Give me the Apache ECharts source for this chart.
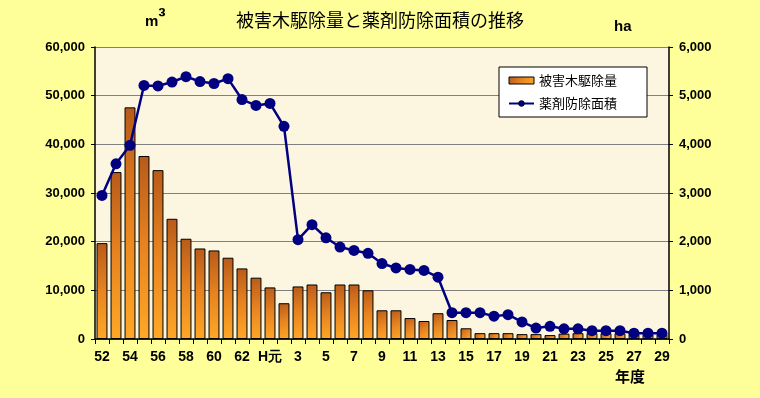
<!DOCTYPE html>
<html><head><meta charset="utf-8">
<script src="https://cdn.jsdelivr.net/npm/echarts@6/dist/echarts.min.js"></script>
<style>html,body{margin:0;padding:0;background:#FFFF99;}#c{width:760px;height:398px;}</style>
</head><body><div id="c"></div>
<script>
const categories = ['52','53','54','55','56','57','58','59','60','61','62','63','H元','2','3','4','5','6','7','8','9','10','11','12','13','14','15','16','17','18','19','20','21','22','23','24','25','26','27','28','29'];
const removalVolume = [19700,34300,47600,37600,34700,24700,20600,18600,18200,16700,14500,12600,10600,7350,10800,11200,9600,11200,11200,10000,5900,5900,4300,3700,5300,3900,2200,1200,1200,1200,1000,1000,800,1100,1200,1200,1200,1200,1000,1000,1000];
const sprayArea = [2950,3600,3980,5210,5200,5280,5390,5290,5250,5350,4920,4800,4840,4370,2040,2350,2080,1890,1820,1760,1550,1460,1430,1410,1270,540,540,540,470,500,350,225,260,210,210,170,170,170,120,120,120];
const seriesNames = ['被害木駆除量','薬剤防除面積'];
const titleText = '被害木駆除量と薬剤防除面積の推移';
const leftUnit = ['m','³'], rightUnit = 'ha', xUnit = '年度';

const chart = echarts.init(document.getElementById('c'), null, {renderer:'canvas'});
const numFont = {fontFamily:'Liberation Sans, Arial, sans-serif', fontSize:13, fontWeight:'bold', color:'#000'};
const cjk = 'Noto Sans CJK JP, sans-serif';
chart.setOption({
  backgroundColor:'#FFFF99',
  animation:false,
  grid:{left:95, right:91, top:47, bottom:59, show:true, backgroundColor:'#FCF5E0', borderWidth:0},
  graphic:[
    {type:'text', left:'center', top:11, style:{text:titleText, font:'18px '+cjk, fill:'#000'}},
    {type:'text', left:145, top:7, style:{text:'{m|'+leftUnit[0]+'}{s|'+leftUnit[1]+'}', rich:{
      m:{fontFamily:'Liberation Sans, Arial', fontWeight:'bold', fontSize:15, fill:'#000', verticalAlign:'bottom'},
      s:{fontFamily:'Liberation Sans, Arial', fontWeight:'bold', fontSize:22, fill:'#000', verticalAlign:'bottom'}}}},
    {type:'text', left:614, top:19, style:{text:rightUnit, font:'bold 15px Liberation Sans, Arial', fill:'#000'}},
    {type:'text', left:615, top:369, style:{text:xUnit, font:'bold 15px '+cjk, fill:'#000'}}
  ],
  legend:{
    orient:'vertical', left:499, top:67, backgroundColor:'#fff', borderColor:'#000', borderWidth:1, borderRadius:0,
    padding:[7,30,7,9], itemGap:10, itemWidth:25, itemHeight:7, itemStyle:{borderWidth:1,borderColor:'#000'},
    textStyle:{fontFamily:cjk, fontSize:13, color:'#000'},
    data:[{name:seriesNames[0], icon:'rect'},{name:seriesNames[1]}]
  },
  xAxis:{
    type:'category', data:categories, boundaryGap:true,
    axisLine:{lineStyle:{color:'#000', width:1.5}},
    axisTick:{show:true, interval:0, length:5, lineStyle:{color:'#000'}},
    axisLabel:Object.assign({interval:1, margin:11}, numFont, {fontSize:14}),
    splitLine:{show:false}
  },
  yAxis:[
    {type:'value', min:0, max:60000, interval:10000, position:'left',
     axisLine:{show:true, lineStyle:{color:'#000', width:1.5}},
     axisTick:{show:true, length:4, lineStyle:{color:'#000'}},
     axisLabel:Object.assign({margin:10, formatter:v=>v.toLocaleString('en-US')}, numFont),
     splitLine:{show:true, lineStyle:{color:'#808080', width:1}}},
    {type:'value', min:0, max:6000, interval:1000, position:'right',
     axisLine:{show:true, lineStyle:{color:'#000', width:1.5}},
     axisTick:{show:true, length:4, lineStyle:{color:'#000'}},
     axisLabel:Object.assign({margin:10, formatter:v=>v.toLocaleString('en-US')}, numFont),
     splitLine:{show:false}}
  ],
  series:[
    {name:seriesNames[0], type:'bar', data:removalVolume, yAxisIndex:0, barCategoryGap:'22%',
     itemStyle:{borderColor:'#000', borderWidth:1,
       color:new echarts.graphic.LinearGradient(0,0,1,1,[{offset:0,color:'#B85A1A'},{offset:0.5,color:'#E88420'},{offset:1,color:'#FFA826'}])}},
    {name:seriesNames[1], type:'line', data:sprayArea, yAxisIndex:1, symbol:'circle', symbolSize:11, showAllSymbol:true,
     lineStyle:{color:'#000080', width:2.5}, itemStyle:{color:'#000080'}}
  ]
});
</script></body></html>
